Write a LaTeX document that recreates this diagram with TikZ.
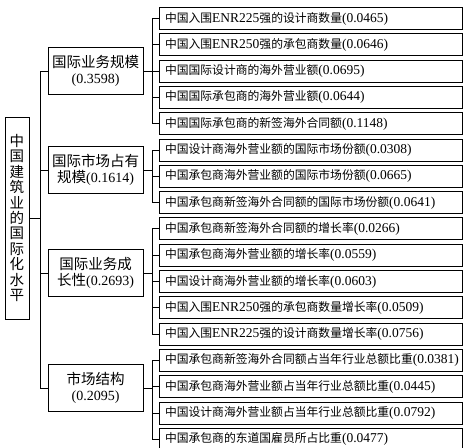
\documentclass[tikz,border=0pt]{standalone}
\usepackage{fontspec}
\setmainfont{Noto Sans CJK SC}
\newfontfamily\latfont{Liberation Serif}
\newcommand{\latsize}{12}
\newcommand{\lat}[1]{{\latfont\fontsize{\latsize}{14}\selectfont #1}}
\usetikzlibrary{positioning}

\begin{document}
\begin{tikzpicture}[x=1pt, y=-1pt, line width=0.9pt,
  rootbox/.style={draw, inner xsep=0pt, inner ysep=0pt, text width=24pt, align=center, minimum height=202pt, font=\fontsize{14.5}{15.4}\selectfont},
  midbox/.style={draw, inner xsep=0pt, inner ysep=0pt, text width=95pt, align=center, minimum height=47pt, font=\fontsize{14.5}{15.5}\selectfont\renewcommand{\latsize}{14}},
  leaf/.style={draw, inner xsep=6pt, inner ysep=0pt, text width=291pt, align=left, minimum height=22pt, font=\fontsize{11.8}{14}\selectfont\renewcommand{\latsize}{13.5}},
  leafgap/.style={below=3.4pt of #1}]
  \useasboundingbox (0,0) rectangle (470,447);

  \node[rootbox] (root) at (17,218) {中\\国\\建\\筑\\业\\的\\国\\际\\化\\水\\平};

  \node[midbox] (g1) at (95.5,71) {国际业务规模\\\lat{(0.3598)}};
  \node[midbox] (g2) at (95.5,170) {国际市场占有\\规模\lat{(0.1614)}};
  \node[midbox] (g3) at (95.5,273) {国际业务成\\长性\lat{(0.2693)}};
  \node[midbox] (g4) at (95.5,388) {市场结构\\\lat{(0.2095)}};

  % indicators
  \node[leaf] (l1) at (310.5,18.5) {中国入围\lat{ENR225}强的设计商数量\lat{(0.0465)}};
  \node[leaf, leafgap=l1] (l2) {中国入围\lat{ENR250}强的承包商数量\lat{(0.0646)}};
  \node[leaf, leafgap=l2] (l3) {中国国际设计商的海外营业额\lat{(0.0695)}};
  \node[leaf, leafgap=l3] (l4) {中国国际承包商的海外营业额\lat{(0.0644)}};
  \node[leaf, leafgap=l4] (l5) {中国国际承包商的新签海外合同额\lat{(0.1148)}};
  \node[leaf, leafgap=l5] (l6) {中国设计商海外营业额的国际市场份额\lat{(0.0308)}};
  \node[leaf, leafgap=l6] (l7) {中国承包商海外营业额的国际市场份额\lat{(0.0665)}};
  \node[leaf, leafgap=l7] (l8) {中国承包商新签海外合同额的国际市场份额\lat{(0.0641)}};
  \node[leaf, leafgap=l8] (l9) {中国承包商新签海外合同额的增长率\lat{(0.0266)}};
  \node[leaf, leafgap=l9] (l10) {中国承包商海外营业额的增长率\lat{(0.0559)}};
  \node[leaf, leafgap=l10] (l11) {中国设计商海外营业额的增长率\lat{(0.0603)}};
  \node[leaf, leafgap=l11] (l12) {中国入围\lat{ENR250}强的承包商数量增长率\lat{(0.0509)}};
  \node[leaf, leafgap=l12] (l13) {中国入围\lat{ENR225}强的设计商数量增长率\lat{(0.0756)}};
  \node[leaf, leafgap=l13] (l14) {中国承包商新签海外合同额占当年行业总额比重\lat{(0.0381)}};
  \node[leaf, leafgap=l14] (l15) {中国承包商海外营业额占当年行业总额比重\lat{(0.0445)}};
  \node[leaf, leafgap=l15] (l16) {中国设计商海外营业额占当年行业总额比重\lat{(0.0792)}};
  \node[leaf, leafgap=l16] (l17) {中国承包商的东道国雇员所占比重\lat{(0.0477)}};

  % trunk and brackets
  \coordinate (trunk) at (40,0);
  \coordinate (br) at (152,0);
  \draw (root.east) -- (root.east -| trunk);
  \draw (trunk |- g1.west) -- (trunk |- g4.west);
  \foreach \g in {g1,g2,g3,g4}
    \draw (trunk |- \g.west) -- (\g.west);
  \foreach \g/\a/\b in {g1/l1/l5, g2/l6/l8, g3/l9/l13, g4/l14/l17} {
    \draw (\g.east) -- (\g.east -| br);
    \draw (br |- \a.west) -- (br |- \b.west);
  }
  \foreach \i in {1,...,17}
    \draw (br |- l\i.west) -- (l\i.west);
\end{tikzpicture}
\end{document}
